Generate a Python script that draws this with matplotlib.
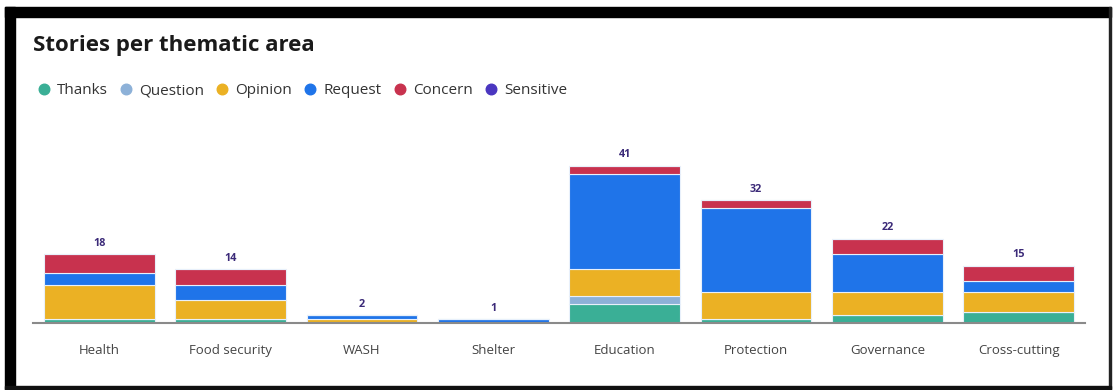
import matplotlib.pyplot as plt
from matplotlib.patches import Rectangle
from matplotlib.lines import Line2D

plt.rcParams['font.family'] = ['Open Sans', 'Noto Sans', 'DejaVu Sans']

areas = ["Health", "Food security", "WASH", "Shelter", "Education",
         "Protection", "Governance", "Cross-cutting"]
thanks = [1, 1, 0, 0, 5, 1, 2, 3]
question = [0, 0, 0, 0, 2, 0, 0, 0]
opinion = [9, 5, 1, 0, 7, 7, 6, 5]
request = [3, 4, 1, 1, 25, 22, 10, 3]
concern = [5, 4, 0, 0, 2, 2, 4, 4]
sensitive = [0, 0, 0, 0, 0, 0, 0, 0]

series = [("Thanks", thanks, "#3aaf96"),
          ("Question", question, "#8db1d8"),
          ("Opinion", opinion, "#ebb124"),
          ("Request", request, "#1f74e9"),
          ("Concern", concern, "#c8324e"),
          ("Sensitive", sensitive, "#4a36c0")]

fig = plt.figure(figsize=(11.13, 3.90), dpi=100)
ax = fig.add_axes([33 / 1113, 1 - 323 / 390, 1052 / 1113, 191.5 / 390])

x = range(len(areas))
bottom = [0] * len(areas)
for name, vals, col in series:
    ax.bar(x, vals, width=0.845, bottom=bottom, color=col,
           edgecolor="#e8f0fb", linewidth=0.8, zorder=2)
    bottom = [b + v for b, v in zip(bottom, vals)]

for i, tot in enumerate(bottom):
    ax.annotate(str(tot), (i, tot), xytext=(0, 4), textcoords="offset points",
                ha="center", va="bottom", fontsize=7.8, fontweight="bold",
                color="#3b2a78")

ax.set_xlim(-0.505, 7.505)
ax.set_ylim(0, 50)
ax.set_xticks(list(x))
ax.set_xticklabels(areas, fontsize=9.5, color="#444444")
ax.tick_params(axis="x", length=0, pad=15)
ax.set_yticks([])
for s in ["top", "right", "left"]:
    ax.spines[s].set_visible(False)
ax.spines["bottom"].set_color("#8a8a8a")
ax.spines["bottom"].set_linewidth(1.5)
ax.spines["bottom"].set_zorder(3)

fig.text(33 / 1113, 1 - 45 / 390, "Stories per thematic area", fontsize=16,
         fontweight="bold", color="#1a1a1a", va="center", ha="left")

handles = [Line2D([], [], marker="o", linestyle="", markersize=7.6,
                  markerfacecolor=col, markeredgecolor=col)
           for _, _, col in series]
fig.legend(handles, [s[0] for s in series], loc="center left",
           bbox_to_anchor=(24 / 1113, 1 - 91 / 390), ncol=6, frameon=False,
           fontsize=11, handlelength=0.8, handletextpad=0.45,
           columnspacing=0.8, labelcolor="#333333")

# screenshot frame
fig.patches.append(Rectangle((5 / 1113, 1 - 17 / 390), 1106 / 1113, 10 / 390,
                             transform=fig.transFigure, color="black"))
fig.patches.append(Rectangle((5 / 1113, 0), 10 / 1113, 1 - 7 / 390,
                             transform=fig.transFigure, color="black"))
fig.patches.append(Rectangle((1109 / 1113, 0), 2 / 1113, 1 - 7 / 390,
                             transform=fig.transFigure, color="#222222"))
fig.patches.append(Rectangle((5 / 1113, 1 / 390), 1106 / 1113, 3 / 390,
                             transform=fig.transFigure, color="#111111"))

fig.savefig("out.png", dpi=100)
